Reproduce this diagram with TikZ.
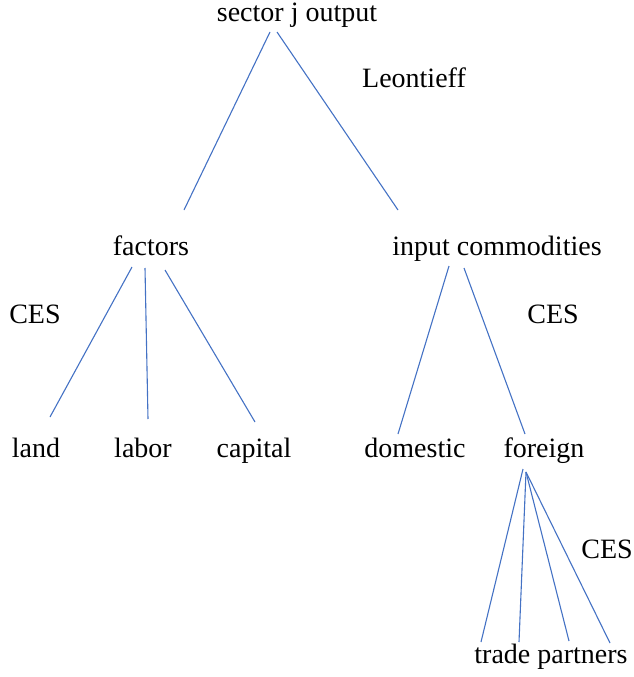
\documentclass[tikz,border=0pt]{standalone}
\usepackage{fontspec}
\setmainfont{Liberation Serif}
\usepackage{tikz}

\definecolor{treeblue}{RGB}{68,114,196}

\begin{document}
\begin{tikzpicture}[x=1pt,y=-1pt,
    lbl/.style={inner sep=0pt,anchor=base,font=\fontsize{28}{33}\selectfont},
    branch/.style={treeblue,line width=1.1pt}]
            \useasboundingbox (0,0) rectangle (634,677);

            % labels (placed on their baselines)
            \node[lbl] (output) at (297,22) {sector j output};
            \node[lbl] (leon) at (414,88) {Leontieff};
            \node[lbl] (factors) at (151,255) {factors};
            \node[lbl] (inputs) at (497,255) {input commodities};
            \node[lbl] (cesa) at (35,323) {CES};
            \node[lbl] (cesb) at (553,323) {CES};
            \node[lbl] (land) at (36,457) {land};
            \node[lbl] (labor) at (143,457) {labor};
            \node[lbl] (capital) at (254,457) {capital};
            \node[lbl] (domestic) at (415,457) {domestic};
            \node[lbl] (foreign) at (544,457) {foreign};
            \node[lbl] (cesc) at (607,558) {CES};
            \node[lbl] (partners) at (551,663) {trade partners};

            % branch ends
            \coordinate (o1) at (270,32);
            \coordinate (o2) at (277,32);
            \coordinate (f0) at (184,210);
            \coordinate (i0) at (398,210);
            \coordinate (fa) at (132,267);
            \coordinate (fb) at (145,268);
            \coordinate (fc) at (165,270);
            \coordinate (la) at (50,417);
            \coordinate (lb) at (148,419);
            \coordinate (ca) at (255,422);
            \coordinate (ia) at (449,266);
            \coordinate (ib) at (464,268);
            \coordinate (do) at (398,434);
            \coordinate (fo) at (525,434);
            \coordinate (ga) at (523,469);
            \coordinate (gb) at (526,472);
            \coordinate (p1) at (481,642);
            \coordinate (p2) at (519,642);
            \coordinate (p3) at (569,641);
            \coordinate (p4) at (610,643);

            \draw[branch] (o1) -- (f0);
            \draw[branch] (o2) -- (i0);

            \draw[branch] (fa) -- (la);
            \draw[branch] (fb) -- (lb);
            \draw[branch] (fc) -- (ca);

            \draw[branch] (ia) -- (do);
            \draw[branch] (ib) -- (fo);

            \draw[branch] (ga) -- (p1);
            \draw[branch] (gb) -- (p2);
            \draw[branch] (gb) -- (p3);
            \draw[branch] (gb) -- (p4);
        \end{tikzpicture}
\end{document}
